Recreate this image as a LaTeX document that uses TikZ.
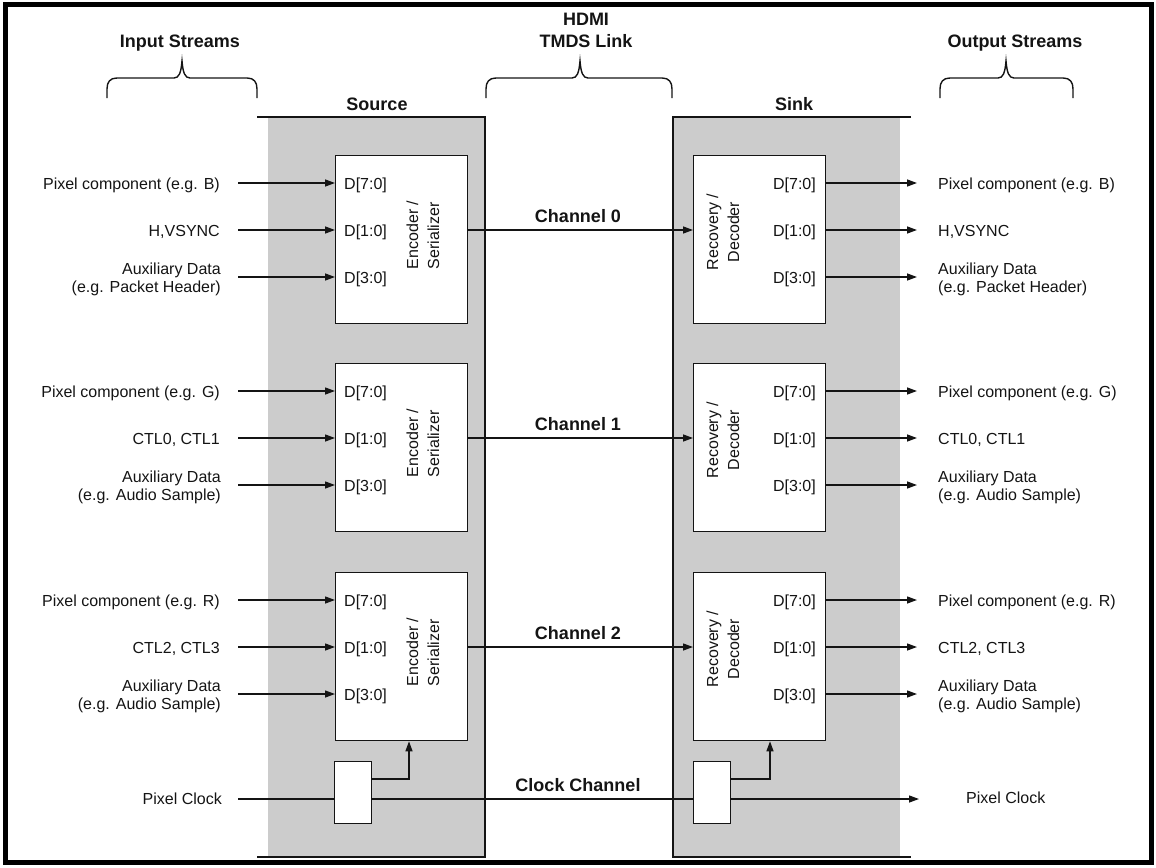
\documentclass[tikz,border=0pt]{standalone}
\usepackage{fontspec}
\setmainfont{Liberation Sans}
\usetikzlibrary{arrows.meta}
\definecolor{panelgray}{RGB}{204,204,204}
\definecolor{ink}{RGB}{20,20,20}
\newcommand{\mybrace}[3]{%
  \draw[brc] (#1,98) -- (#1,89) .. controls (#1,82) and ({#1+3},78) .. ({#1+10},78)
    -- ({#3-8},78) .. controls ({#3-3},78) and ({#3-1},73) .. (#3,61)
    .. controls ({#3+1},73) and ({#3+3},78) .. ({#3+8},78)
    -- ({#2-10},78) .. controls ({#2-3},78) and (#2,82) .. (#2,89) -- (#2,98);}
\begin{document}
\begin{tikzpicture}[x=1pt,y=-1pt,
  lbl/.style={font=\fontsize{16}{18}\selectfont, inner sep=0pt, text=ink},
  rlbl/.style={font=\fontsize{16}{21}\selectfont, inner sep=0pt, text=ink, rotate=90},
  hdr/.style={font=\bfseries\fontsize{18}{22}\selectfont, inner sep=0pt, text=ink},
  blk/.style={draw=ink, fill=white, line width=1.3pt, inner sep=0pt,
    minimum width=132pt, minimum height=168pt, anchor=north west},
  clk/.style={draw=ink, fill=white, line width=1.3pt, inner sep=0pt,
    minimum width=37pt, minimum height=62pt, anchor=north west},
  arr/.style={draw=ink, line width=1.3pt, -{Triangle[length=10pt,width=7pt]}},
  wire/.style={draw=ink, line width=1.3pt},
  pline/.style={draw=ink, line width=1.8pt},
  brc/.style={draw=ink, line width=1.4pt}]
\useasboundingbox (0,0) rectangle (1156,867);
% frame
\draw[line width=5pt] (5,5) rectangle (1151,862);
% panels
\fill[panelgray] (268,117) rectangle (485,857);
\draw[pline] (257,117) -- (485,117) -- (485,857) -- (257,857);
\fill[panelgray] (673,117) rectangle (900,857);
\draw[pline] (911,117) -- (673,117) -- (673,857) -- (911,857);
% headers
\node[hdr, anchor=base] (hin) at (180,48) {Input Streams};
\node[hdr, anchor=base] (hhdmi) at (586,26) {HDMI};
\node[hdr, anchor=base] (htmds) at (586,48) {TMDS Link};
\node[hdr, anchor=base] (hout) at (1015,48) {Output Streams};
\node[hdr, anchor=base] (hsrc) at (377,110) {Source};
\node[hdr, anchor=base] (hsnk) at (794,110) {Sink};
\mybrace{107}{257}{182}
\mybrace{486}{672}{580}
\mybrace{940}{1073}{1006}

% ---------- channel 0 (top 155) ----------
\node[blk] (e0) at (335,155) {};
\node[blk] (d0) at (693,155) {};
\node[lbl, anchor=base west] (e0a) at (344,189) {D[7:0]};
\node[lbl, anchor=base west] (e0b) at (344,236) {D[1:0]};
\node[lbl, anchor=base west] (e0c) at (344,283) {D[3:0]};
\node[rlbl, align=left] (e0t) at (423,235) {Encoder /\\Serializer};
\node[lbl, anchor=base east] (d0a) at (816,189) {D[7:0]};
\node[lbl, anchor=base east] (d0b) at (816,236) {D[1:0]};
\node[lbl, anchor=base east] (d0c) at (816,283) {D[3:0]};
\node[rlbl, align=center] (d0t) at (723,232) {Recovery /\\Decoder};
\node[lbl, anchor=base east] (i0a) at (220,189) {Pixel component (e.g. B)};
\node[lbl, anchor=base east] (i0b) at (220,236) {H,VSYNC};
\node[lbl, anchor=east, align=right] (i0c) at (221,279) {Auxiliary Data\\(e.g. Packet Header)};
\node[lbl, anchor=base west] (o0a) at (938,189) {Pixel component (e.g. B)};
\node[lbl, anchor=base west] (o0b) at (938,236) {H,VSYNC};
\node[lbl, anchor=west, align=left] (o0c) at (938,279) {Auxiliary Data\\(e.g. Packet Header)};
\coordinate (s0a) at (238,183); \coordinate (s0b) at (238,230); \coordinate (s0c) at (238,277);
\coordinate (t0a) at (917,183); \coordinate (t0b) at (917,230); \coordinate (t0c) at (917,277);
\draw[arr] (s0a) -- (e0.west |- s0a);
\draw[arr] (s0b) -- (e0.west |- s0b);
\draw[arr] (s0c) -- (e0.west |- s0c);
\draw[arr] (d0.east |- t0a) -- (t0a);
\draw[arr] (d0.east |- t0b) -- (t0b);
\draw[arr] (d0.east |- t0c) -- (t0c);
\draw[arr] (e0.east |- s0b) -- (d0.west |- s0b);
\node[hdr, anchor=base] (ch0) at (578,222) {Channel 0};

% ---------- channel 1 (top 363) ----------
\node[blk] (e1) at (335,363) {};
\node[blk] (d1) at (693,363) {};
\node[lbl, anchor=base west] (e1a) at (344,397) {D[7:0]};
\node[lbl, anchor=base west] (e1b) at (344,444) {D[1:0]};
\node[lbl, anchor=base west] (e1c) at (344,491) {D[3:0]};
\node[rlbl, align=left] (e1t) at (423,443) {Encoder /\\Serializer};
\node[lbl, anchor=base east] (d1a) at (816,397) {D[7:0]};
\node[lbl, anchor=base east] (d1b) at (816,444) {D[1:0]};
\node[lbl, anchor=base east] (d1c) at (816,491) {D[3:0]};
\node[rlbl, align=center] (d1t) at (723,440) {Recovery /\\Decoder};
\node[lbl, anchor=base east] (i1a) at (220,397) {Pixel component (e.g. G)};
\node[lbl, anchor=base east] (i1b) at (220,444) {CTL0, CTL1};
\node[lbl, anchor=east, align=right] (i1c) at (221,487) {Auxiliary Data\\(e.g. Audio Sample)};
\node[lbl, anchor=base west] (o1a) at (938,397) {Pixel component (e.g. G)};
\node[lbl, anchor=base west] (o1b) at (938,444) {CTL0, CTL1};
\node[lbl, anchor=west, align=left] (o1c) at (938,487) {Auxiliary Data\\(e.g. Audio Sample)};
\coordinate (s1a) at (238,391); \coordinate (s1b) at (238,438); \coordinate (s1c) at (238,485);
\coordinate (t1a) at (917,391); \coordinate (t1b) at (917,438); \coordinate (t1c) at (917,485);
\draw[arr] (s1a) -- (e1.west |- s1a);
\draw[arr] (s1b) -- (e1.west |- s1b);
\draw[arr] (s1c) -- (e1.west |- s1c);
\draw[arr] (d1.east |- t1a) -- (t1a);
\draw[arr] (d1.east |- t1b) -- (t1b);
\draw[arr] (d1.east |- t1c) -- (t1c);
\draw[arr] (e1.east |- s1b) -- (d1.west |- s1b);
\node[hdr, anchor=base] (ch1) at (578,430) {Channel 1};

% ---------- channel 2 (top 572) ----------
\node[blk] (e2) at (335,572) {};
\node[blk] (d2) at (693,572) {};
\node[lbl, anchor=base west] (e2a) at (344,606) {D[7:0]};
\node[lbl, anchor=base west] (e2b) at (344,653) {D[1:0]};
\node[lbl, anchor=base west] (e2c) at (344,700) {D[3:0]};
\node[rlbl, align=left] (e2t) at (423,652) {Encoder /\\Serializer};
\node[lbl, anchor=base east] (d2a) at (816,606) {D[7:0]};
\node[lbl, anchor=base east] (d2b) at (816,653) {D[1:0]};
\node[lbl, anchor=base east] (d2c) at (816,700) {D[3:0]};
\node[rlbl, align=center] (d2t) at (723,649) {Recovery /\\Decoder};
\node[lbl, anchor=base east] (i2a) at (220,606) {Pixel component (e.g. R)};
\node[lbl, anchor=base east] (i2b) at (220,653) {CTL2, CTL3};
\node[lbl, anchor=east, align=right] (i2c) at (221,696) {Auxiliary Data\\(e.g. Audio Sample)};
\node[lbl, anchor=base west] (o2a) at (938,606) {Pixel component (e.g. R)};
\node[lbl, anchor=base west] (o2b) at (938,653) {CTL2, CTL3};
\node[lbl, anchor=west, align=left] (o2c) at (938,696) {Auxiliary Data\\(e.g. Audio Sample)};
\coordinate (s2a) at (238,600); \coordinate (s2b) at (238,647); \coordinate (s2c) at (238,694);
\coordinate (t2a) at (917,600); \coordinate (t2b) at (917,647); \coordinate (t2c) at (917,694);
\draw[arr] (s2a) -- (e2.west |- s2a);
\draw[arr] (s2b) -- (e2.west |- s2b);
\draw[arr] (s2c) -- (e2.west |- s2c);
\draw[arr] (d2.east |- t2a) -- (t2a);
\draw[arr] (d2.east |- t2b) -- (t2b);
\draw[arr] (d2.east |- t2c) -- (t2c);
\draw[arr] (e2.east |- s2b) -- (d2.west |- s2b);
\node[hdr, anchor=base] (ch2) at (578,639) {Channel 2};

% ---------- clock ----------
\node[clk] (ck1) at (334,761) {};
\node[clk] (ck2) at (693,761) {};
\coordinate (cin) at (238,799);
\coordinate (cout) at (919,799);
\coordinate (k1) at (409,779);
\coordinate (k2) at (770,779);
\draw[wire] (cin) -- (ck1.west |- cin);
\draw[wire] (ck1.east |- cin) -- (ck2.west |- cin);
\draw[arr] (ck2.east |- cin) -- (cout);
\draw[arr] (ck1.east |- k1) -- (k1) -- (k1 |- e2.south);
\draw[arr] (ck2.east |- k2) -- (k2) -- (k2 |- d2.south);
\node[lbl, anchor=base east] (pcin) at (222,804) {Pixel Clock};
\node[lbl, anchor=base west] (pcout) at (966,803) {Pixel Clock};
\node[hdr, anchor=base] (chc) at (578,791) {Clock Channel};
\end{tikzpicture}
\end{document}
